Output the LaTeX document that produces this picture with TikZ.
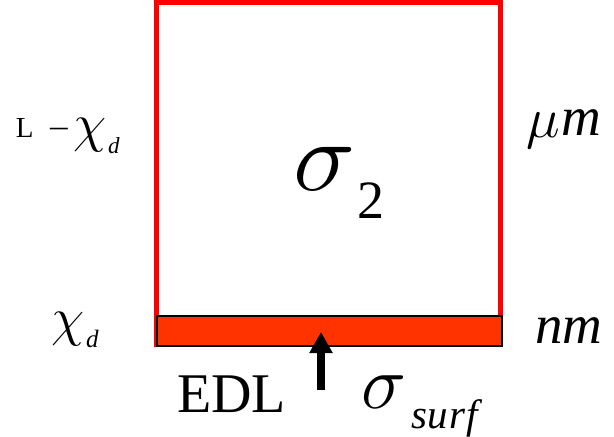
\RequirePackage{fix-cm}
\documentclass[tikz,border=0pt]{standalone}
\usepackage{fontspec}
\usetikzlibrary{arrows.meta}
\setmainfont{Liberation Serif}
\definecolor{boxred}{HTML}{FF0000}
\definecolor{bandred}{HTML}{FF3300}
\newcommand{\fs}[1]{\fontsize{#1}{#1}\selectfont}
\begin{document}
\begin{tikzpicture}[x=1pt,y=-1pt,
  lbl/.style={inner sep=0pt,outer sep=0pt,anchor=base west}]
\useasboundingbox (0,0) rectangle (614,437);
% outer box
\draw[boxred,line width=5pt] (156.5,2.5) rectangle (500,344.5);
% EDL band
\node[draw=black,fill=bandred,line width=1.5pt,inner sep=0pt,minimum width=345pt,minimum height=30pt,anchor=north west] (band) at (156,315) {};
% arrow
\coordinate (abot) at (321,390);
\coordinate (atip) at (321,332);
\draw[line width=8pt,-{Triangle[width=22pt,length=21pt]}] (abot) -- (atip);
% left top: L - chi_d
\node[lbl] (lL) at (16,137) {\fs{29}L};
\node[lbl] (lminus) at (50,136) {\fs{32}\scalebox{1.1}[1]{–}};
\node[lbl] (lchi) at (73,141) {\fs{54}$\chi$};
\node[lbl] (ld) at (108,153) {\fs{23}\itshape d};
% left bottom: chi_d
\node[lbl] (bchi) at (51,335) {\fs{54}$\chi$};
\node[lbl] (bd) at (86,347) {\fs{25}\itshape d};
% right: um, nm
\node[lbl] (mu) at (526,137) {\fs{57}$\mu$};
\node[lbl] (um) at (561,135) {\fs{55}\itshape m};
\node[lbl] (nm) at (535,343) {\fs{55}\itshape nm};
% sigma_2
\node[lbl] (s2) at (293,190) {\fs{100}\scalebox{1.05}[1]{$\sigma$}};
\node[lbl] (two) at (357,218) {\fs{54}2};
% EDL, sigma_surf
\node[lbl] (edl) at (177,412) {\fs{56}EDL};
\node[lbl] (ss) at (361,408) {\fs{76}$\sigma$};
\node[lbl] (surf) at (411,428) {\fs{41}\itshape s\kern1pt u\kern1pt r\kern1pt f};
\end{tikzpicture}
\end{document}
